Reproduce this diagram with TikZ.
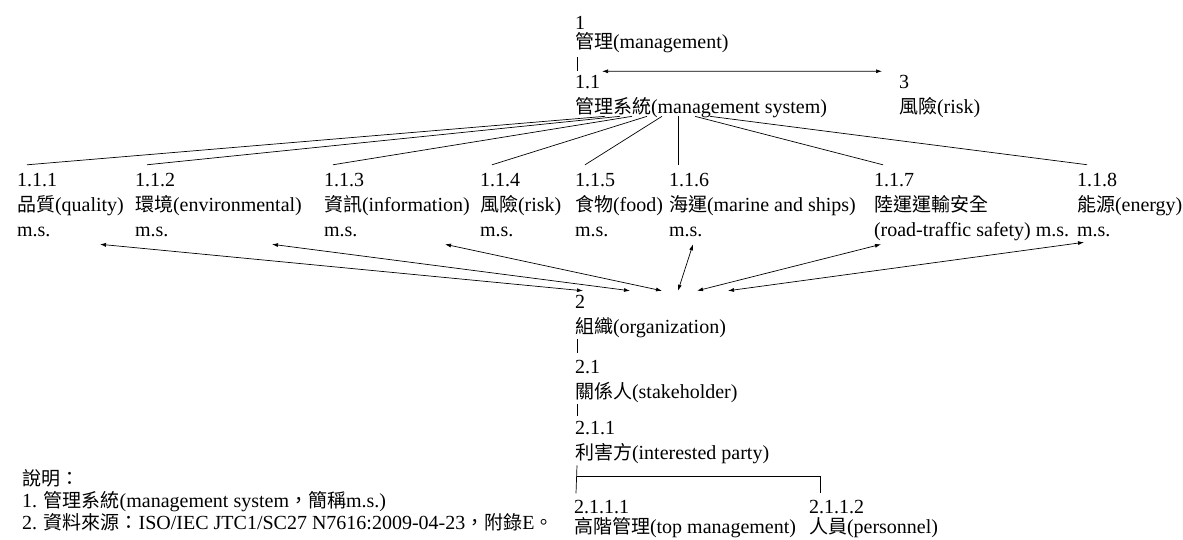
\documentclass[tikz,border=0pt]{standalone}
\usepackage{fontspec}
\setmainfont{Liberation Serif}
\newfontfamily\cjk[Scale=0.95]{Noto Sans CJK TC}
\newcommand{\zh}[1]{{\cjk #1}}
\usetikzlibrary{arrows.meta}

\begin{document}
\begin{tikzpicture}[
  x=1pt, y=-1pt, >={Latex[length=6pt,width=4pt]},
  term/.style={anchor=base west, align=left, inner sep=0pt, outer sep=2pt,
               font=\fontsize{20}{25}\selectfont},
  tight/.style={term, font=\fontsize{20}{19.5}\selectfont},
  note/.style={term, font=\fontsize{20}{22}\selectfont},
  link/.style={line width=0.7pt},
  both/.style={<->, line width=0.7pt}
]
\useasboundingbox (0,0) rectangle (1183,539);

% upper part (positions give the baseline of the last line)
\node[tight] (mgmt) at (573,48.5) {1\\\zh{管理}(management)};
\node[term] (ms) at (573,113) {1.1\\\zh{管理系統}(management system)};
\node[term] (risk) at (897,113) {3\\\zh{風險}(risk)};

% kinds of management systems
\node[term] (qual) at (15,236) {1.1.1\\\zh{品質}(quality)\\m.s.};
\node[term] (env) at (133,236) {1.1.2\\\zh{環境}(environmental)\\m.s.};
\node[term] (info) at (322,236) {1.1.3\\\zh{資訊}(information)\\m.s.};
\node[term] (rsk) at (478,236) {1.1.4\\\zh{風險}(risk)\\m.s.};
\node[term] (food) at (573,236) {1.1.5\\\zh{食物}(food)\\m.s.};
\node[term] (ship) at (667,236) {1.1.6\\\zh{海運}(marine and ships)\\m.s.};
\node[term] (road) at (872,236) {1.1.7\\\zh{陸運運輸安全}\\(road-traffic safety) m.s.};
\node[term] (enrg) at (1075,236) {1.1.8\\\zh{能源}(energy)\\m.s.};

% organization branch
\node[term] (org) at (573,333) {2\\\zh{組織}(organization)};
\node[term] (stake) at (573,398) {2.1\\\zh{關係人}(stakeholder)};
\node[term] (party) at (573,459) {2.1.1\\\zh{利害方}(interested party)};
\node[tight] (topm) at (572,533) {2.1.1.1\\\zh{高階管理}(top management)};
\node[tight] (pers) at (807,533) {2.1.1.2\\\zh{人員}(personnel)};

% notes
\node[note] (legend) at (20,529.6) {\zh{說明：}\\
  1. \zh{管理系統}(management system\zh{，簡稱}m.s.)\\
  2. \zh{資料來源：}ISO/IEC JTC1/SC27 N7616:2009-04-23\zh{，附錄}E\zh{。}};

\draw[link] ([xshift=4,yshift=-2]mgmt.south west) -- ([xshift=4,yshift=2]ms.north west);
\draw[both] ([xshift=29,yshift=1.5]ms.north west) -- ([xshift=-15,yshift=1.5]risk.north west);

\foreach \t/\b/\n in {32/12/qual, 47/14/env, 59/11/info, 74/14/rsk,
                      89/12/food, 105/11/ship, 122/11/road, 137/12/enrg}
  \draw[link] ([xshift=\t,yshift=3]ms.south west) -- ([xshift=\b,yshift=6]\n.north west);

\foreach \n/\a/\b/\s in {qual/85/10/-6, env/139/57/-6, info/123/89/-6,
                         ship/26/105/-6, road/9/124/-2, enrg/9/155/-4}
  \draw[both] ([xshift=\a,yshift=\s]\n.south west) -- ([xshift=\b,yshift=2]org.north west);

\draw[link] ([xshift=4]org.south west) -- ([xshift=4,yshift=5]stake.north west);
\draw[link] ([xshift=4]stake.south west) -- ([xshift=4,yshift=3]party.north west);
\draw[link] ([xshift=4]party.south west) -- ([xshift=4,yshift=5]topm.north west);
\draw[link] ([xshift=4,yshift=-11]party.south west) -| ([xshift=13,yshift=5]pers.north west);
\end{tikzpicture}
\end{document}
